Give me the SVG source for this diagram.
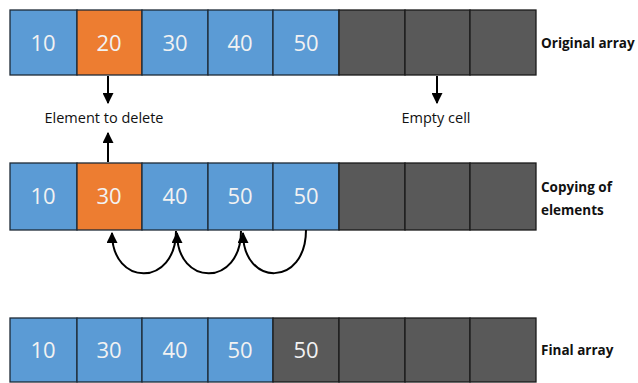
<svg xmlns="http://www.w3.org/2000/svg" width="638" height="383" viewBox="0 0 638 383">
<defs>
<style>
.b{fill:#5B9BD5;stroke:#1e2a36;stroke-width:1.3}
.o{fill:#ED7D31;stroke:#1e2a36;stroke-width:1.3}
.g{fill:#595959;stroke:#1a1a1a;stroke-width:1.3}
.n{font-family:"Open Sans","Noto Sans",sans-serif;font-size:22px;fill:#f2f2f2;text-anchor:middle}
.l{font-family:"Open Sans","Noto Sans",sans-serif;font-size:14.5px;fill:#111}
.lb{font-family:"Open Sans","Noto Sans",sans-serif;font-size:13.5px;font-weight:bold;fill:#111}
.c{fill:none;stroke:#000;stroke-width:2}
</style>
<marker id="ah" viewBox="0 0 10 10" refX="9" refY="5" markerWidth="5.5" markerHeight="5.5" orient="auto-start-reverse" markerUnits="strokeWidth">
<path d="M0,0 L10,5 L0,10 z" fill="#000"/>
</marker>
</defs>
<g id="original-array">
<rect class="b" x="10" y="10" width="67" height="65"/>
<rect class="o" x="77" y="10" width="65" height="65"/>
<rect class="b" x="142" y="10" width="66" height="65"/>
<rect class="b" x="208" y="10" width="65" height="65"/>
<rect class="b" x="273" y="10" width="66" height="65"/>
<rect class="g" x="339" y="10" width="66" height="65"/>
<rect class="g" x="405" y="10" width="65" height="65"/>
<rect class="g" x="470" y="10" width="66" height="65"/>
<text class="n" x="43" y="51">10</text>
<text class="n" x="109" y="51">20</text>
<text class="n" x="175" y="51">30</text>
<text class="n" x="240" y="51">40</text>
<text class="n" x="306" y="51">50</text>
<text class="lb" x="541" y="48">Original array</text>
</g>
<g id="copying-array">
<rect class="b" x="10" y="163" width="67" height="67"/>
<rect class="o" x="77" y="163" width="65" height="67"/>
<rect class="b" x="142" y="163" width="66" height="67"/>
<rect class="b" x="208" y="163" width="65" height="67"/>
<rect class="b" x="273" y="163" width="66" height="67"/>
<rect class="g" x="339" y="163" width="66" height="67"/>
<rect class="g" x="405" y="163" width="65" height="67"/>
<rect class="g" x="470" y="163" width="66" height="67"/>
<text class="n" x="43" y="204">10</text>
<text class="n" x="109" y="204">30</text>
<text class="n" x="175" y="204">40</text>
<text class="n" x="240" y="204">50</text>
<text class="n" x="306" y="204">50</text>
<text class="lb" x="541" y="192">Copying of</text>
<text class="lb" x="541" y="215">elements</text>
</g>
<g id="final-array">
<rect class="b" x="10" y="318" width="67" height="64"/>
<rect class="b" x="77" y="318" width="65" height="64"/>
<rect class="b" x="142" y="318" width="66" height="64"/>
<rect class="b" x="208" y="318" width="65" height="64"/>
<rect class="g" x="273" y="318" width="66" height="64"/>
<rect class="g" x="339" y="318" width="66" height="64"/>
<rect class="g" x="405" y="318" width="65" height="64"/>
<rect class="g" x="470" y="318" width="66" height="64"/>
<text class="n" x="43" y="358">10</text>
<text class="n" x="109" y="358">30</text>
<text class="n" x="175" y="358">40</text>
<text class="n" x="240" y="358">50</text>
<text class="n" x="306" y="358">50</text>
<text class="lb" x="541" y="355">Final array</text>
</g>
<g id="label-element">
<text class="l" x="104" y="123" text-anchor="middle">Element to delete</text>
</g>
<g id="label-empty">
<text class="l" x="436" y="123" text-anchor="middle">Empty cell</text>
</g>
<g id="connectors">
<line class="c" x1="108" y1="76" x2="108" y2="103" marker-end="url(#ah)"/>
<line class="c" x1="437" y1="76" x2="437" y2="103" marker-end="url(#ah)"/>
<line class="c" x1="108" y1="162" x2="108" y2="133" marker-end="url(#ah)"/>
<path class="c" d="M306,230 C306,287 243,287 243,233" marker-end="url(#ah)"/>
<path class="c" d="M241,231 C241,287 177,287 177,233" marker-end="url(#ah)"/>
<path class="c" d="M176,231 C176,287 112,287 112,233" marker-end="url(#ah)"/>
</g>
</svg>
